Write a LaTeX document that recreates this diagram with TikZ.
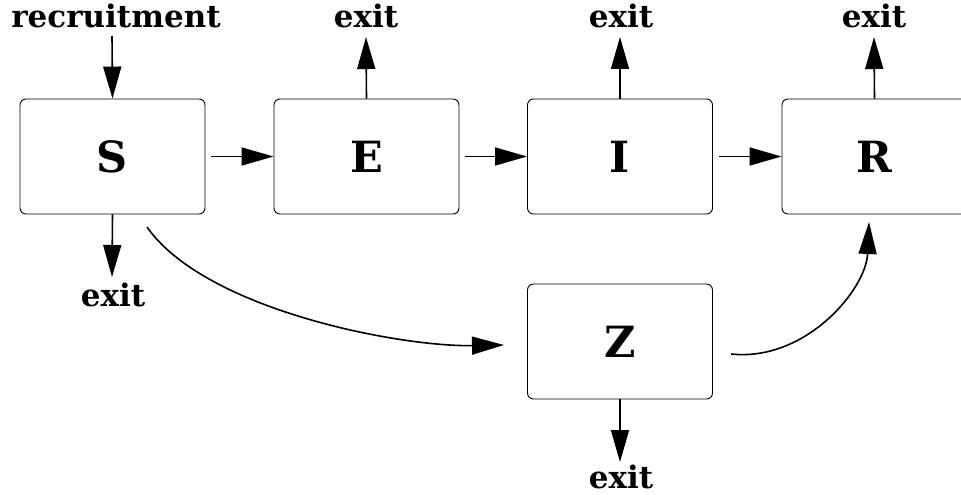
\documentclass[tikz,border=0pt]{standalone}
\usepackage{fontspec}
\setmainfont{DejaVu Serif}
\usetikzlibrary{arrows.meta}
\tikzset{
  box/.style={draw, line width=0.9pt, rounded corners=6pt, minimum width=185pt, minimum height=115pt, inner sep=0pt, font=\fontsize{43}{43}\selectfont\bfseries},
  lbl/.style={font=\fontsize{31}{31}\selectfont\bfseries, inner sep=0pt, anchor=base},
  arr/.style={line width=1.6pt, -{Triangle[length=32pt,width=18pt]}},
}
\begin{document}
\begin{tikzpicture}[x=1pt,y=-1pt]
\useasboundingbox (0,0) rectangle (961,495);
\node[box] (S) at (112.5,156.5) {S};
\node[box] (E) at (366.5,156.5) {E};
\node[box] (I) at (620,156.5) {I};
\node[box] (R) at (874.5,156.5) {R};
\node[box] (Z) at (620,341.5) {Z};

\node[lbl] (rec) at (116,28) {recruitment};
\node[lbl] (xE) at (366,28) {exit};
\node[lbl] (xI) at (621,28) {exit};
\node[lbl] (xR) at (874,28) {exit};
\node[lbl] (xS) at (113,306) {exit};
\node[lbl] (xZ) at (621,488) {exit};

\coordinate (recEnd) at (112,36);
\coordinate (eE) at (366,37);
\coordinate (eI) at (620,37);
\coordinate (eR) at (874,37);
\coordinate (eS) at (112,277);
\coordinate (eZ) at (620,462);
\coordinate (c1) at (147,227);
\coordinate (c2) at (504,345);
\coordinate (c3) at (731,354);
\coordinate (c4) at (869,222);

\draw[arr] (recEnd) -- (S.north);
\draw[arr] ([xshift=6pt]S.east) -- (E.west);
\draw[arr] ([xshift=6pt]E.east) -- (I.west);
\draw[arr] ([xshift=6pt]I.east) -- (R.west);
\draw[arr] (E.north) -- (eE);
\draw[arr] (I.north) -- (eI);
\draw[arr] (R.north) -- (eR);
\draw[arr] (S.south) -- (eS);
\draw[arr] (Z.south) -- (eZ);
\draw[arr] (c1) .. controls (205,310) and (400,347) .. (c2);
\draw[arr] (c3) .. controls (805,362) and (866,290) .. (c4);
\end{tikzpicture}
\end{document}
